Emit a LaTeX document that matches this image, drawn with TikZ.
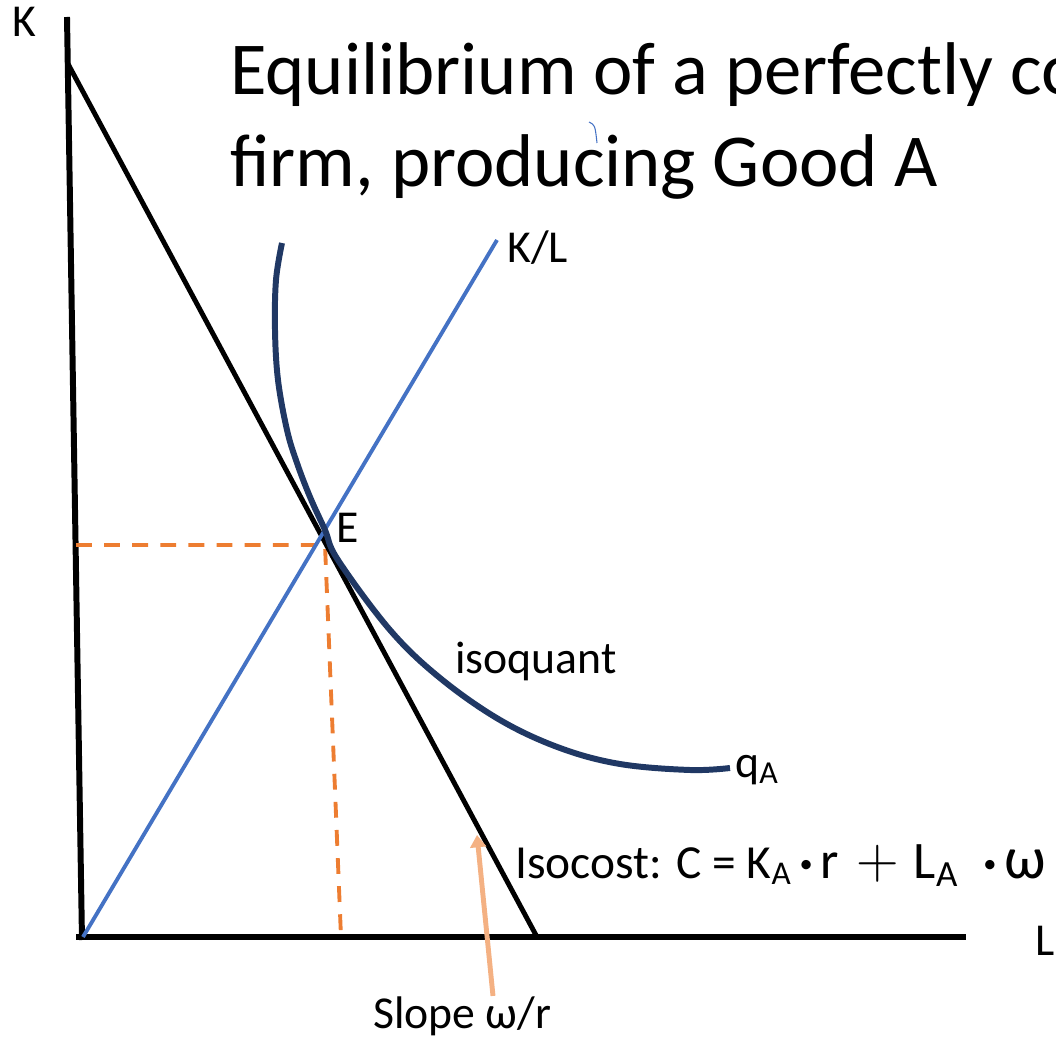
\documentclass[tikz,border=0pt]{standalone}
\usepackage{fontspec}
\setmainfont{Carlito}
\usetikzlibrary{arrows.meta,calc,positioning}
\definecolor{eqBlue}{HTML}{4472C4}
\definecolor{eqNavy}{HTML}{203864}
\definecolor{eqOrange}{HTML}{ED7D31}
\definecolor{eqPeach}{HTML}{F4B183}
\newcommand{\smalldot}{\raisebox{.11cm}{\fontsize{15}{15}\selectfont •}}

\begin{document}
\begin{tikzpicture}[x=1cm,y=1cm,>=Triangle]
  \tikzset{
    axis/.style={line width=3.4pt},
    isocost/.style={line width=2.8pt},
    ray/.style={draw=eqBlue,line width=2.2pt},
    isoquant/.style={draw=eqNavy,line width=3.4pt},
    guide/.style={draw=eqOrange,line width=2.2pt,dash pattern=on 9pt off 7pt},
    pointer/.style={draw=eqPeach,line width=2.8pt,-{Triangle[length=7pt,width=9pt]}},
    label/.style={font=\fontsize{26}{30}\selectfont,inner sep=0pt,anchor=base west},
    title/.style={font=\fontsize{42.5}{50}\selectfont,inner sep=0pt,anchor=base west}
  }
  \useasboundingbox (0,0) rectangle (21.12,20.74);
  \coordinate (kTop) at (1.34,20.40);
  \coordinate (kFoot) at (1.64,1.94);
  \coordinate (lStart) at (1.52,2.00);
  \coordinate (lEnd) at (19.32,2.00);
  \coordinate (costK) at (1.34,19.50);
  \coordinate (costL) at (10.74,2.00);
  \coordinate (rayStart) at (1.66,2.00);
  \coordinate (rayEnd) at (9.94,15.94);
  \coordinate (E) at (intersection of costK--costL and rayStart--rayEnd);
  \coordinate (kMark) at (1.52,9.84);
  \coordinate (eMark) at (6.50,9.84);
  \coordinate (lMark) at (6.82,2.00);
  \coordinate (slopeTip) at (9.54,4.04);
  \draw[axis] (kTop) -- (kFoot);
  \draw[axis] (lStart) -- (lEnd);
  \draw[guide] (kMark) -- (eMark) -- (lMark);
  \draw[isocost] (costK) -- (costL);
  \draw[ray] (rayStart) -- (E) -- (rayEnd);
  \draw[isoquant] plot[smooth,tension=.6] coordinates {(5.64,15.88) (5.52,15.14) (5.50,14.14) (5.56,13.14) (5.74,12.14) (5.94,11.48) (6.20,10.80) (6.50,10.14) (6.76,9.54) (7.80,8.14) (8.80,7.18) (10.00,6.34) (11.20,5.78) (12.40,5.46) (13.80,5.34) (14.60,5.38)};
  \node[title] (titleTop) at (4.60,18.84) {Equilibrium of a perfectly co};
  \node[title] (titleBottom) at ([yshift=-1.84cm]titleTop.base west) {firm, producing Good A};
  \draw[eqBlue,line width=.6pt] (11.78,18.30) .. controls (11.90,18.24) .. (11.94,17.88);
  \node[label] (kLabel) at (0.24,20.00) {K};
  \node[label] (lLabel) at (20.70,1.64) {L};
  \node[label] (eLabel) at (6.72,9.88) {E};
  \node[label] (klLabel) at (10.14,15.48) {K/L};
  \node[label] (isoLabel) at (9.10,7.26) {isoquant};
  \node[label] (qLabel) at (14.70,5.20) {q\textsubscript{A}};
  \node[label,font=\fontsize{27}{31}\selectfont] (costLabel) at (10.30,3.18) {Isocost: C = K\textsubscript{A}\,\smalldot\,{\fontsize{30}{34}\selectfont r\hspace{.35cm}\scalebox{1.35}{$+$}\hspace{.3cm}L\textsubscript{A}}\hspace{.5cm}\smalldot\,{\fontsize{34}{38}\selectfont ω}};
  \node[label] (slope) at (7.46,0.18) {Slope ω/r};
  \draw[pointer] ([xshift=2.40cm]slope.north west) -- (slopeTip);
\end{tikzpicture}
\end{document}
